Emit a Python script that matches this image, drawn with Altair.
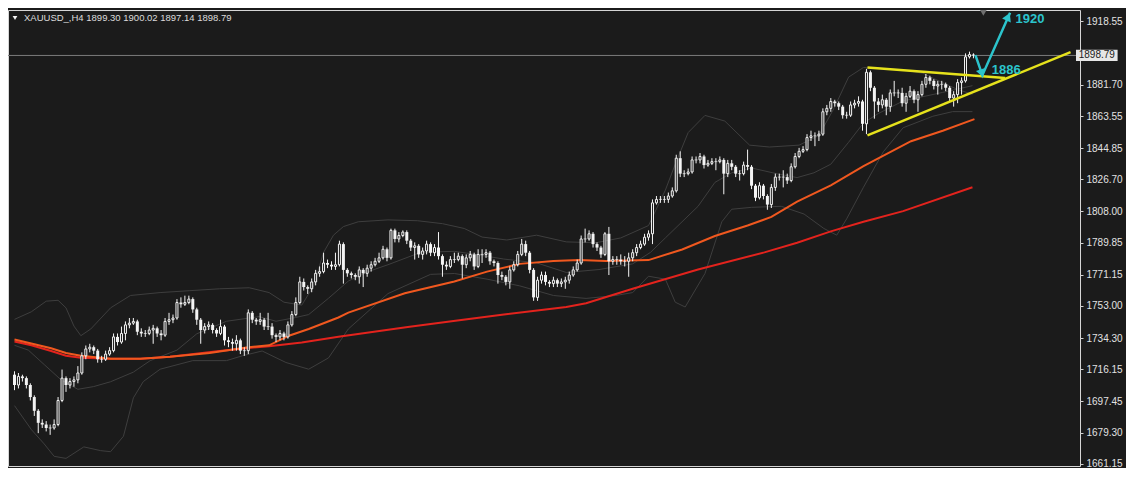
import altair as alt
import pandas as pd

# ---------------- data ----------------
first_open = 1713.0
close = [
    1707, 1712, 1711, 1707, 1700, 1692, 1685, 1684, 1682, 1682,
    1684, 1698, 1711, 1707, 1709, 1710, 1714, 1724, 1728, 1729,
    1727, 1722, 1722, 1725, 1727, 1735, 1732, 1737, 1742, 1743,
    1744, 1738, 1737, 1737, 1739, 1740, 1737, 1736, 1744, 1745,
    1746, 1755, 1754, 1755, 1757, 1751, 1745, 1739, 1741, 1742,
    1739, 1737, 1741, 1733, 1732, 1731, 1733, 1727, 1727, 1749,
    1745, 1744, 1745, 1741, 1741, 1736, 1735, 1737, 1735, 1742,
    1748, 1755, 1767, 1764, 1763, 1767, 1772, 1773, 1778, 1777,
    1776, 1777, 1789, 1774, 1772, 1771, 1770, 1774, 1772, 1775,
    1777, 1779, 1781, 1786, 1781, 1797, 1792, 1794, 1796, 1791,
    1787, 1788, 1783, 1785, 1789, 1784, 1787, 1782, 1777, 1776,
    1780, 1780, 1782, 1777, 1781, 1783, 1776, 1783, 1783, 1784,
    1779, 1778, 1771, 1770, 1767, 1774, 1777, 1783, 1789, 1784,
    1774, 1758, 1768, 1771, 1767, 1766, 1768, 1766, 1767, 1768,
    1771, 1774, 1778, 1792, 1792, 1795, 1789, 1787, 1783, 1795,
    1779, 1780, 1780, 1779, 1779, 1781, 1784, 1787, 1789, 1793,
    1795, 1813, 1815, 1815, 1815, 1817, 1820, 1839, 1830, 1830,
    1831, 1838, 1838, 1840, 1835, 1836, 1837, 1837, 1838, 1830,
    1836, 1834, 1830, 1830, 1835, 1834, 1823, 1816, 1823, 1817,
    1812, 1822, 1828, 1828, 1828, 1826, 1834, 1840, 1843, 1844,
    1851, 1852, 1852, 1853, 1866, 1868, 1872, 1871, 1869, 1864,
    1864, 1870, 1871, 1872, 1859, 1889, 1880, 1872, 1870, 1873,
    1869, 1877, 1877, 1877, 1871, 1875, 1878, 1873, 1876, 1882,
    1886, 1884, 1881, 1882, 1882, 1880, 1874, 1876, 1883, 1884,
    1898, 1899.30, 1898.79,
]
high = [
    1715, 1714, 1713, 1712, 1708, 1701, 1693, 1687, 1686, 1684,
    1687, 1700, 1716, 1712, 1711, 1712, 1718, 1726, 1730, 1731,
    1730, 1728, 1724, 1727, 1729, 1737, 1737, 1741, 1744, 1746,
    1746, 1745, 1740, 1739, 1741, 1742, 1741, 1739, 1746, 1749,
    1748, 1757, 1758, 1759, 1759, 1758, 1752, 1746, 1743, 1744,
    1743, 1740, 1745, 1742, 1735, 1734, 1736, 1734, 1729, 1751,
    1750, 1746, 1749, 1746, 1749, 1743, 1737, 1739, 1738, 1744,
    1750, 1758, 1770, 1769, 1765, 1769, 1774, 1776, 1784, 1780,
    1779, 1784, 1791, 1790, 1775, 1773, 1772, 1776, 1775, 1777,
    1779, 1781, 1784, 1788, 1787, 1798, 1798, 1796, 1797, 1797,
    1792, 1790, 1789, 1787, 1791, 1790, 1789, 1796, 1783, 1779,
    1782, 1784, 1784, 1783, 1783, 1785, 1784, 1786, 1786, 1786,
    1785, 1780, 1779, 1773, 1771, 1776, 1779, 1785, 1792, 1791,
    1785, 1775, 1770, 1773, 1773, 1768, 1770, 1769, 1769, 1770,
    1773, 1776, 1780, 1794, 1798, 1797, 1796, 1790, 1788, 1796,
    1799, 1782, 1782, 1783, 1782, 1784, 1786, 1789, 1791, 1795,
    1797, 1815, 1817, 1817, 1817, 1819, 1822, 1841, 1843, 1832,
    1833, 1840, 1840, 1842, 1841, 1838, 1839, 1839, 1840, 1839,
    1838, 1838, 1835, 1832, 1837, 1844, 1835, 1824, 1825, 1824,
    1818, 1824, 1830, 1830, 1832, 1830, 1836, 1842, 1845, 1846,
    1853, 1855, 1854, 1855, 1868, 1870, 1874, 1873, 1872, 1870,
    1866, 1872, 1873, 1875, 1873, 1891, 1890, 1881, 1874, 1876,
    1874, 1879, 1884, 1879, 1880, 1877, 1881, 1879, 1878, 1884,
    1888, 1887, 1885, 1884, 1884, 1883, 1881, 1878, 1885, 1886,
    1900, 1901, 1900.02,
]
low = [
    1704, 1705, 1709, 1705, 1698, 1689, 1679, 1682, 1680, 1678,
    1681, 1683, 1697, 1703, 1705, 1706, 1708, 1713, 1722, 1726,
    1725, 1720, 1720, 1721, 1724, 1726, 1730, 1731, 1733, 1740,
    1742, 1736, 1735, 1735, 1736, 1731, 1735, 1733, 1735, 1742,
    1743, 1745, 1752, 1753, 1754, 1749, 1742, 1731, 1737, 1739,
    1737, 1735, 1736, 1730, 1729, 1727, 1727, 1725, 1724, 1725,
    1743, 1742, 1742, 1739, 1739, 1734, 1732, 1733, 1733, 1734,
    1741, 1747, 1754, 1762, 1760, 1761, 1765, 1770, 1772, 1775,
    1774, 1774, 1776, 1766, 1770, 1769, 1768, 1766, 1764, 1770,
    1773, 1776, 1778, 1780, 1779, 1780, 1790, 1790, 1793, 1789,
    1785, 1780, 1781, 1780, 1783, 1782, 1782, 1780, 1770, 1774,
    1775, 1778, 1779, 1769, 1775, 1779, 1774, 1775, 1778, 1781,
    1777, 1776, 1766, 1768, 1765, 1763, 1773, 1776, 1782, 1782,
    1772, 1756, 1756, 1766, 1765, 1764, 1764, 1764, 1764, 1763,
    1766, 1770, 1773, 1777, 1790, 1791, 1787, 1785, 1781, 1782,
    1771, 1777, 1777, 1777, 1776, 1770, 1779, 1782, 1786, 1788,
    1791, 1789, 1812, 1813, 1813, 1813, 1816, 1819, 1828, 1828,
    1829, 1830, 1836, 1836, 1833, 1834, 1835, 1832, 1836, 1818,
    1828, 1832, 1828, 1826, 1829, 1832, 1821, 1814, 1815, 1815,
    1809, 1810, 1820, 1826, 1822, 1824, 1825, 1833, 1839, 1842,
    1843, 1849, 1846, 1849, 1852, 1864, 1866, 1869, 1867, 1862,
    1862, 1863, 1868, 1869, 1855, 1853, 1878, 1862, 1866, 1868,
    1864, 1866, 1875, 1874, 1869, 1866, 1874, 1871, 1866, 1875,
    1880, 1882, 1879, 1876, 1879, 1878, 1872, 1869, 1871, 1876,
    1883, 1897, 1897.14,
]

# moving averages (bar index, price)
ma_fast_i = [0, 4.25, 9.25, 13, 16.75, 19.25, 24.25, 31.75, 39.25, 49.25,
             58.5, 64.25, 69.25, 74.25, 81.75, 84.25, 98.5, 111, 119.25, 127.5,
             136, 142.5, 149.25, 160, 168.5, 176.75, 185, 191, 197.5, 206,
             214.25, 226.25, 234.25, 242.25]
ma_fast_v = [1733.5, 1731.2, 1728.4, 1725.6, 1724.0, 1723.4, 1722.3, 1722.3, 1723.4, 1725.6,
             1728.8, 1730.1, 1735.7, 1739.6, 1746.3, 1749.1, 1760.4, 1767.2, 1773.0, 1777.5,
             1779.2, 1779.7, 1779.2, 1779.7, 1785.9, 1793.7, 1799.8, 1804.8, 1813.7, 1823.2,
             1834.4, 1848.9, 1855.0, 1861.7]
ma_slow_i = [0, 4.25, 9.25, 13, 16.75, 24.25, 31.75, 39.25, 51.75, 58.5,
             64.25, 72.5, 81.75, 99.25, 111.75, 123.5, 139.25, 144.25, 156, 172.5,
             189.25, 197.5, 206, 214.25, 224.25, 241.75]
ma_slow_v = [1732.3, 1730.1, 1726.8, 1724.0, 1722.8, 1722.3, 1722.3, 1723.4, 1726.8, 1728.4,
             1729.6, 1731.8, 1735.1, 1740.7, 1744.6, 1748.0, 1752.4, 1754.6, 1763.0, 1774.2,
             1784.2, 1789.8, 1796.4, 1802.0, 1808.2, 1822.1]

# Bollinger bands (bar index, price)
bb_up_i = [0, 4.25, 8, 11, 13, 15, 16.75, 19.25, 24.25, 29.25,
           36.75, 44.25, 51.75, 59.25, 64.25, 68, 72.5, 75.5, 78, 80.5,
           83, 86.75, 94.25, 101.75, 108, 113.5, 118, 124.25, 131.75, 139.25,
           146.75, 153, 160, 164.25, 166.75, 170, 174.25, 179.25, 185.5, 190.5,
           198, 203, 206.75, 210.5, 214.25, 219.25, 225, 229.25, 234.25, 238,
           241.75]
bb_up_v = [1745.2, 1749.6, 1755.8, 1756.3, 1751.9, 1741.3, 1735.7, 1739.6, 1751.9, 1759.1,
           1760.8, 1761.9, 1763.0, 1763.6, 1760.8, 1755.2, 1753.5, 1764.7, 1784.2, 1794.2,
           1799.2, 1802.0, 1803.1, 1802.6, 1800.9, 1798.1, 1793.1, 1791.4, 1794.2, 1790.3,
           1789.8, 1792.6, 1799.8, 1820.4, 1835.5, 1853.9, 1863.9, 1860.6, 1846.6, 1845.5,
           1846.6, 1852.2, 1867.8, 1886.2, 1891.8, 1891.2, 1890.1, 1888.4, 1882.9, 1879.0,
           1876.2]
bb_mid_i = [0, 3.5, 7.5, 11.75, 16, 20, 24.25, 30, 34.25, 41,
            46, 53.5, 61.75, 66, 71, 74.25, 79.25, 84.25, 89.25, 94.25,
            102.5, 111, 116, 123.5, 131.75, 139.25, 147.5, 156, 160.5, 164.25,
            172.5, 176.75, 181, 186, 192.5, 197.5, 201.75, 206, 210.5, 214.25,
            218, 224.25, 234.25, 241.75]
bb_mid_v = [1730.1, 1727.3, 1718.9, 1710.0, 1704.5, 1706.1, 1708.9, 1714.5, 1721.2, 1727.3,
            1736.8, 1744.1, 1746.8, 1744.1, 1746.3, 1748.0, 1757.5, 1767.5, 1773.0, 1777.0,
            1784.2, 1784.8, 1783.1, 1780.3, 1778.1, 1772.5, 1774.2, 1777.5, 1784.2, 1792.6,
            1811.0, 1824.9, 1830.5, 1833.3, 1829.9, 1827.7, 1830.5, 1835.5, 1848.3, 1859.5,
            1865.0, 1872.3, 1877.3, 1881.2]
bb_lo_i = [0, 4.25, 7.5, 10, 13, 17.5, 21.75, 24.25, 27.5, 30,
           32.5, 36.75, 45, 53.5, 57.5, 62.5, 68.5, 74.25, 79.25, 84.25,
           94.25, 105, 111, 119.25, 127.5, 136, 144.25, 151.75, 156, 160,
           164.25, 166.75, 169.25, 174.25, 178.5, 181, 186, 193.5, 199.25, 204.25,
           207.5, 210, 214.25, 219.25, 224.25, 231.75, 236.75, 241.75]
bb_lo_v = [1695.0, 1681.1, 1672.7, 1665.5, 1664.3, 1671.0, 1668.8, 1668.2, 1677.2, 1699.5,
           1709.0, 1716.2, 1721.2, 1721.2, 1724.0, 1726.8, 1720.1, 1716.2, 1722.8, 1739.6,
           1760.2, 1771.4, 1771.9, 1768.6, 1764.7, 1759.1, 1757.4, 1759.1, 1760.8, 1770.3,
           1768.6, 1755.2, 1752.4, 1771.9, 1802.0, 1809.3, 1810.4, 1811.0, 1806.5, 1798.1,
           1794.2, 1803.7, 1822.1, 1842.7, 1856.7, 1863.4, 1866.1, 1866.1]

# triangle (yellow) lines
tri_line = ["top", "top", "bottom", "bottom"]
tri_i = [215.25, 250.0, 215.25, 266.5]
tri_v = [1891.8, 1885.7, 1852.3, 1900.7]

# cyan forecast arrow path
arrow_i = [242.5, 244.25, 251.25]
arrow_v = [1899.0, 1887.3, 1923.6]
head_i = [244.1, 250.75]
head_v = [1888.4, 1921.3]
head_angle = [161, 24]
target_text = ["1886", "1920"]
target_i = [250.25, 256.25]
target_v = [1890.1, 1920.2]

shift_i = [244.5]
shift_v = [1923.6]

last_price = 1898.79
tick_values = [1918.55, 1881.70, 1863.55, 1844.85, 1826.70, 1808.00, 1789.85,
               1771.15, 1753.00, 1734.30, 1716.15, 1697.45, 1679.30, 1661.15]
header = "XAUUSD_,H4  1899.30 1900.02 1897.14 1898.79"

# ---------------- styling ----------------
BG = "#1b1b1b"
WHITE = "#f4f4f4"
BB_COL = "#3e3e3e"
ORANGE = "#f0581f"
RED = "#e3231d"
YELLOW = "#e6e21c"
CYAN = "#2cc4cc"
FONT = "Liberation Sans"

W, H = 1072, 456
X_LO, X_HI = -0.375, 267.625   # 4 px per bar

n = len(close)
opens = [first_open] + close[:-1]
df = pd.DataFrame({"i": list(range(n)), "o": opens, "c": close, "h": high, "l": low})
df["bull"] = df["c"] > df["o"]

xs = alt.Scale(domain=[X_LO, X_HI], nice=False, zero=False)
ys = alt.Scale(domain=[1659.87, 1925.24], nice=False, zero=False)
yaxis = alt.Axis(orient="right", values=tick_values, format=".2f", title=None,
                 grid=False, domain=False, ticks=True, tickSize=3, tickColor="#cfcfcf",
                 labelColor="#e2e2e2", labelFont=FONT, labelFontSize=10, labelPadding=3,
                 labelFlush=False, labelOverlap=False)


def X(f):
    return alt.X(f, type="quantitative", scale=xs, axis=None)


def Y(f):
    return alt.Y(f, type="quantitative", scale=ys, axis=yaxis)


bb_df = pd.concat([
    pd.DataFrame({"i": bb_up_i, "v": bb_up_v, "s": "up"}),
    pd.DataFrame({"i": bb_mid_i, "v": bb_mid_v, "s": "mid"}),
    pd.DataFrame({"i": bb_lo_i, "v": bb_lo_v, "s": "lo"}),
])
bb = alt.Chart(bb_df).mark_line(color=BB_COL, strokeWidth=1).encode(
    x=X("i"), y=Y("v"), detail="s:N")

ma_fast = alt.Chart(pd.DataFrame({"i": ma_fast_i, "v": ma_fast_v})).mark_line(
    color=ORANGE, strokeWidth=2).encode(x=X("i"), y=Y("v"))
ma_slow = alt.Chart(pd.DataFrame({"i": ma_slow_i, "v": ma_slow_v})).mark_line(
    color=RED, strokeWidth=2).encode(x=X("i"), y=Y("v"))

pline = alt.Chart(pd.DataFrame({"p": [last_price]})).mark_rule(
    color="#7c7c7c", strokeWidth=1).encode(y=Y("p"))

wick = alt.Chart(df).mark_rule(color=WHITE, strokeWidth=1).encode(
    x=X("i"), y=Y("l"), y2="h")
bear = alt.Chart(df[~df["bull"]]).mark_bar(size=3, color=WHITE).encode(
    x=X("i"), y=Y("o"), y2="c")
bull = alt.Chart(df[df["bull"]]).mark_bar(size=2, fill=BG, stroke=WHITE, strokeWidth=1).encode(
    x=X("i"), y=Y("o"), y2="c")
doji = alt.Chart(df[df["o"] == df["c"]]).mark_tick(
    orient="horizontal", size=3, thickness=1, color=WHITE).encode(x=X("i"), y=Y("c"))

tri = alt.Chart(pd.DataFrame({"g": tri_line, "i": tri_i, "v": tri_v})).mark_line(
    color=YELLOW, strokeWidth=2.5).encode(x=X("i"), y=Y("v"), detail="g:N")

arrow = alt.Chart(pd.DataFrame({"k": list(range(len(arrow_i))), "i": arrow_i, "v": arrow_v})).mark_line(
    color=CYAN, strokeWidth=2.5).encode(x=X("i"), y=Y("v"), order="k:Q")
heads = alt.Chart(pd.DataFrame({"i": head_i, "v": head_v, "a": head_angle})).mark_point(
    shape="triangle-up", filled=True, color=CYAN, size=90, opacity=1).encode(
    x=X("i"), y=Y("v"), angle=alt.Angle("a:Q", scale=None))
targets = alt.Chart(pd.DataFrame({"i": target_i, "v": target_v, "t": target_text})).mark_text(
    color=CYAN, font=FONT, fontSize=13, fontWeight="bold").encode(
    x=X("i"), y=Y("v"), text="t:N")

shift = alt.Chart(pd.DataFrame({"i": shift_i, "v": shift_v})).mark_point(
    shape="triangle-down", filled=True, color="#6e6e6e", size=45, opacity=1).encode(
    x=X("i"), y=Y("v"))

# current-price label box on the axis (just right of the plot)
box_x0 = (W + 1) / 4 + X_LO
box_x1 = (W + 43) / 4 + X_LO
box_df = pd.DataFrame({"x0": [box_x0], "x1": [box_x1], "y0": [last_price - 3.3],
                       "y1": [last_price + 3.3], "xm": [(box_x0 + box_x1) / 2], "p": [last_price],
                       "t": ["%.2f" % last_price]})
pbox = alt.Chart(box_df).mark_rect(color="#e6e6e6").encode(
    x=X("x0"), x2="x1", y=Y("y0"), y2="y1")
ptext = alt.Chart(box_df).mark_text(color="#1b1b1b", font=FONT, fontSize=10).encode(
    x=X("xm"), y=Y("p"), text="t:N")

hdr_tri = alt.Chart(pd.DataFrame({"t": [header]})).mark_point(
    shape="triangle-down", filled=True, color=WHITE, size=22, opacity=1).encode(
    x=alt.value(7), y=alt.value(8))
hdr = alt.Chart(pd.DataFrame({"t": [header]})).mark_text(
    align="left", baseline="middle", color="#dcdcdc", font=FONT, fontSize=9.5).encode(
    x=alt.value(16), y=alt.value(8), text="t:N")

chart = alt.layer(
    bb, ma_slow, ma_fast, pline, wick, bear, bull, doji,
    tri, arrow, heads, targets, shift, pbox, ptext, hdr_tri, hdr
).properties(
    width=W, height=H,
    padding={"left": 0, "top": 2, "right": 46, "bottom": 2},
    autosize=alt.AutoSizeParams(type="none"),
    background=BG,
).configure_view(stroke="#d6d6d6", strokeWidth=1)

chart.save("out.html", embed_options={"renderer": "svg", "actions": False})
